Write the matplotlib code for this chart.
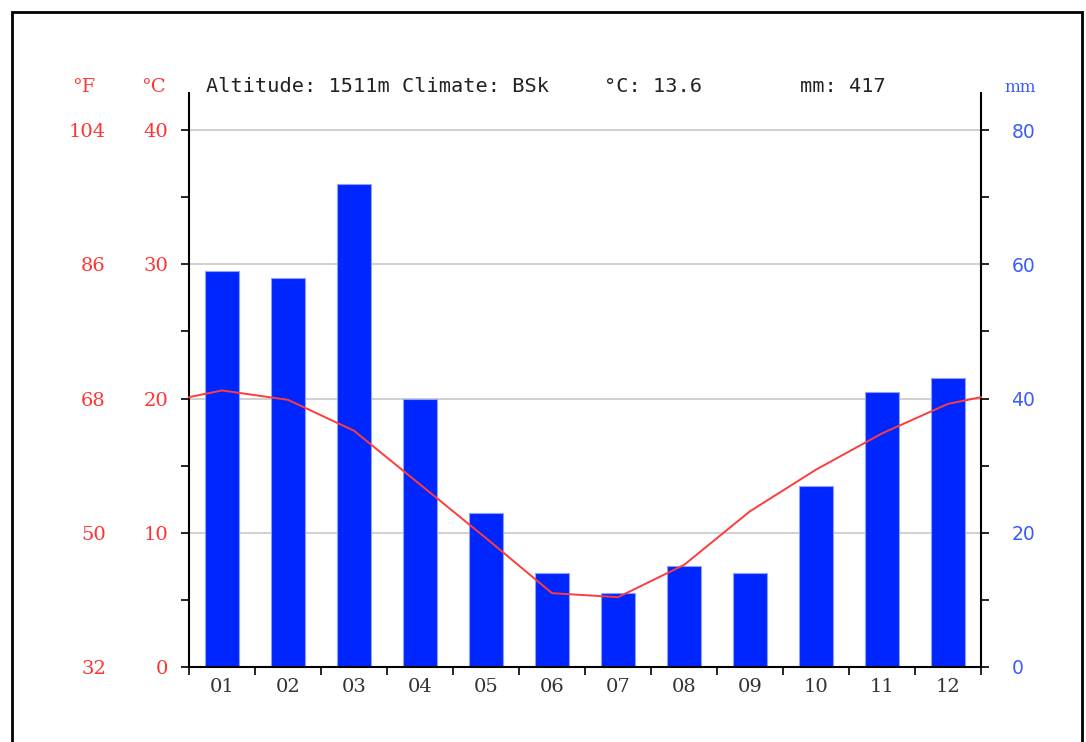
import matplotlib
matplotlib.use("Agg")
import matplotlib.pyplot as plt
from matplotlib.patches import Rectangle
from matplotlib.transforms import blended_transform_factory
import numpy as np

# Monthly climate normals
months = ["01", "02", "03", "04", "05", "06", "07", "08", "09", "10", "11", "12"]
precip_mm = [59, 58, 72, 40, 23, 14, 11, 15, 14, 27, 41, 43]
temp_c = [20.6, 19.9, 17.6, 13.6, 9.6, 5.5, 5.2, 7.6, 11.6, 14.7, 17.4, 19.6]
celsius_ticks = [0, 10, 20, 30, 40]
fahrenheit_labels = ["32", "50", "68", "86", "104"]
mm_ticks = [0, 20, 40, 60, 80]
header_left = "Altitude: 1511m Climate: BSk"
header_temp = "°C: 13.6"
header_mm = "mm: 417"

RED = "#ff3333"
BLUE_BAR = "#0026ff"
BLUE_TXT = "#3a5cff"
SERIF = "DejaVu Serif"
W, H = 1086, 742

fig = plt.figure(figsize=(W / 100, H / 100), dpi=100)
fig.patch.set_facecolor("white")

# frame around the whole figure
fig.patches.append(Rectangle((12 / W, -0.05), (1082 - 12) / W, (H - 12) / H + 0.05,
                             transform=fig.transFigure, fill=False,
                             edgecolor="black", linewidth=2))

left, right_px, bottom_px, top_px = 189, 981, 667, 93
ax_pos = [left / W, (H - bottom_px) / H, (right_px - left) / W, (bottom_px - top_px) / H]
# plot extends above the 40 °C line up to the spine tops
extra = (130 - top_px) / (bottom_px - 130)
t_top = 40 * (1 + extra)
p_top = 80 * (1 + extra)

ax2 = fig.add_axes(ax_pos)  # precipitation (drawn underneath)
ax = fig.add_axes(ax_pos, sharex=ax2)  # temperature on top
ax.patch.set_visible(False)

x = np.arange(len(months)) + 0.5

# precipitation bars
ax2.bar(x, precip_mm, width=0.53, color=BLUE_BAR, edgecolor="#8fa0ff",
        linewidth=0.8, zorder=3)
ax2.set_ylim(0, p_top)
ax2.set_xlim(0, 12)
ax2.yaxis.tick_right()
ax2.set_yticks(mm_ticks)
ax2.set_yticks([10, 30, 50, 70], minor=True)
ax2.set_yticklabels([str(v) for v in mm_ticks], color=BLUE_TXT,
                    fontsize=13.5, family="DejaVu Sans")
ax2.tick_params(axis="y", which="both", direction="out", length=6,
                width=1.2, pad=16, colors="black", labelcolor=BLUE_TXT)
ax2.yaxis.grid(True, which="major", color="#c8c8c8", linewidth=1.2, zorder=0)
ax2.set_axisbelow(True)
for s in ["top", "left", "bottom"]:
    ax2.spines[s].set_visible(False)
ax2.spines["right"].set_linewidth(1.5)
ax2.tick_params(axis="x", which="both", bottom=False, labelbottom=False)

# temperature line, wrapped at the year ends
edge = (temp_c[0] + temp_c[-1]) / 2
tx = np.concatenate([[0], x, [12]])
ty = np.concatenate([[edge], temp_c, [edge]])
ax.plot(tx, ty, color="#ff3b3b", linewidth=1.4, zorder=4, clip_on=False)
ax.set_ylim(0, t_top)
ax.set_xlim(0, 12)
ax.set_yticks(celsius_ticks)
ax.set_yticks([5, 15, 25, 35], minor=True)
ax.set_yticklabels([str(v) for v in celsius_ticks], fontsize=14, family=SERIF)
ax.tick_params(axis="y", which="both", direction="out", length=6, width=1.2,
               pad=9, colors="black", labelcolor=RED)
ax.set_xticks(np.arange(13))
ax.set_xticklabels([""] * 13)
ax.set_xticks(x, minor=True)
ax.set_xticklabels(months, minor=True, fontsize=14, family=SERIF,
                   color="#333333")
ax.tick_params(axis="x", which="major", direction="out", length=6, width=1.2)
ax.tick_params(axis="x", which="minor", length=0, pad=8)
for s in ["top", "right"]:
    ax.spines[s].set_visible(False)
ax.spines["left"].set_linewidth(1.5)
ax.spines["bottom"].set_linewidth(1.5)

# Fahrenheit scale alongside the Celsius labels
trans_f = blended_transform_factory(fig.transFigure, ax.transData)
for c, f in zip(celsius_ticks, fahrenheit_labels):
    ax.text(106 / W, c, f, transform=trans_f, ha="right", va="center_baseline",
            fontsize=14, family=SERIF, color=RED)

# header row
hy = (H - 87) / H
fig.text(95 / W, hy, "°F", ha="right", va="center", fontsize=14,
         family=SERIF, color=RED)
fig.text(166 / W, hy, "°C", ha="right", va="center", fontsize=14,
         family=SERIF, color=RED)
fig.text(206 / W, hy, header_left, ha="left", va="center", fontsize=14.6,
         family="DejaVu Sans Mono", color="#222222")
fig.text(604 / W, hy, header_temp, ha="left", va="center", fontsize=14.6,
         family="DejaVu Sans Mono", color="#222222")
fig.text(800 / W, hy, header_mm, ha="left", va="center", fontsize=14.6,
         family="DejaVu Sans Mono", color="#222222")
fig.text(1004 / W, hy, "mm", ha="left", va="center", fontsize=12,
         family=SERIF, color=BLUE_TXT)

fig.savefig("out.png", dpi=100)
